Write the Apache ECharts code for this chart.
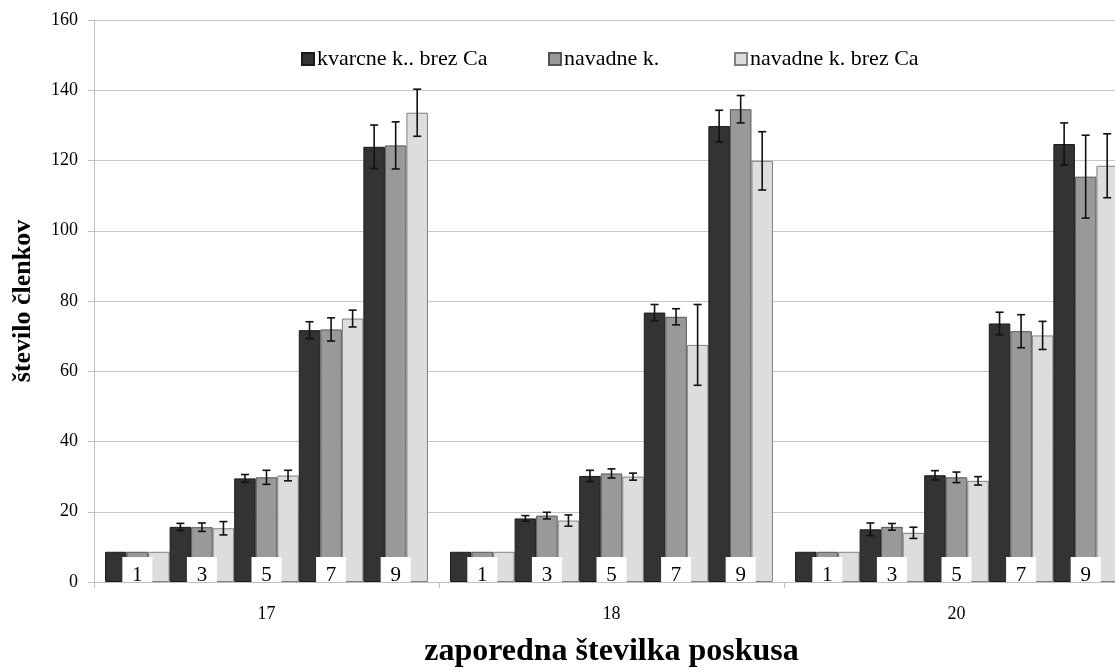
<!DOCTYPE html>
<html>
<head>
<meta charset="utf-8">
<script src="https://cdn.jsdelivr.net/npm/echarts@6/dist/echarts.min.js"></script>
<style>
  html, body { margin: 0; padding: 0; background: #fff; }
  #chart { width: 1115px; height: 668px; }
</style>
</head>
<body>
<div id="chart"></div>
<script>
// Experiment groups on the x axis and the doses inside each group
const groups = ['17', '18', '20'];
const doses = ['1', '3', '5', '7', '9'];
const treatments = ['kvarcne k.. brez Ca', 'navadne k.', 'navadne k. brez Ca'];

// Mean counts, one row per group, one column per dose
const kvarcneMean = [
  [8.6, 15.7, 29.5, 71.7, 123.9],
  [8.6, 18.1, 30.2, 76.7, 129.8],
  [8.6, 15.0, 30.4, 73.6, 124.7]
];
const kvarcneErr = [
  [0, 1.0, 1.1, 2.4, 6.2],
  [0, 0.8, 1.6, 2.3, 4.5],
  [0, 1.8, 1.3, 3.2, 6.0]
];
const navadneMean = [
  [8.6, 15.6, 29.8, 71.9, 124.3],
  [8.6, 18.9, 30.9, 75.5, 134.6],
  [8.6, 15.7, 29.8, 71.4, 115.4]
];
const navadneErr = [
  [0, 1.2, 2.0, 3.3, 6.7],
  [0, 0.95, 1.3, 2.3, 3.9],
  [0, 0.95, 1.5, 4.7, 11.8]
];
const navadneBrezMean = [
  [8.6, 15.3, 30.3, 75.0, 133.6],
  [8.6, 17.5, 30.0, 67.5, 119.9],
  [8.6, 14.0, 28.8, 70.2, 118.5]
];
const navadneBrezErr = [
  [0, 1.9, 1.5, 2.4, 6.7],
  [0, 1.6, 1.0, 11.5, 8.3],
  [0, 1.6, 1.2, 4.0, 9.1]
];

const means = [kvarcneMean, navadneMean, navadneBrezMean];
const errs = [kvarcneErr, navadneErr, navadneBrezErr];

const FONT = '"Liberation Serif", "Times New Roman", serif';
const fills = ['#333333', '#999999', '#dddddd'];
const borders = ['#1a1a1a', '#555555', '#808080'];
const CAT_GAP = 0.064;
const N_BARS = doses.length * treatments.length;

// One bar series per (dose, treatment); series sharing a name share a legend entry
const barSeries = [];
doses.forEach((d, di) => {
  treatments.forEach((t, ti) => {
    barSeries.push({
      type: 'bar',
      name: t,
      data: groups.map((g, gi) => means[ti][gi][di]),
      barGap: '0%',
      barCategoryGap: (CAT_GAP * 100) + '%',
      itemStyle: { color: fills[ti], borderColor: borders[ti], borderWidth: 1 },
      emphasis: { disabled: true },
      z: 2
    });
  });
});

// Centre x of bar k inside a category band
function barCenterX(api, gi, k) {
  const band = api.size([1, 0])[0];
  const barW = band * (1 - CAT_GAP) / N_BARS;
  const cx = api.coord([gi, 0])[0];
  return { x: cx - band * (1 - CAT_GAP) / 2 + (k + 0.5) * barW, w: barW };
}

// Error bar records: [groupIndex, barIndex, mean, err]
const errData = [];
groups.forEach((g, gi) => {
  doses.forEach((d, di) => {
    treatments.forEach((t, ti) => {
      const e = errs[ti][gi][di];
      if (e > 0) errData.push([gi, di * 3 + ti, means[ti][gi][di], e]);
    });
  });
});

// Dose tags at the foot of each triplet: [groupIndex, doseIndex]
const tagData = [];
groups.forEach((g, gi) => doses.forEach((d, di) => tagData.push([gi, di])));

const option = {
  animation: false,
  backgroundColor: '#ffffff',
  textStyle: { fontFamily: FONT },
  grid: { left: 94, right: -14, top: 20, bottom: 86, containLabel: false, outerBoundsMode: 'none' },
  legend: [
    { data: [treatments[0]], left: 296, top: 43 },
    { data: [treatments[1]], left: 543, top: 43 },
    { data: [treatments[2]], left: 729, top: 43 }
  ].map(l => Object.assign(l, {
    icon: 'rect', itemWidth: 12, itemHeight: 12, itemGap: 0,
    selectedMode: false,
    textStyle: { fontFamily: FONT, fontSize: 22, color: '#000', padding: [0, 0, 0, -2] }
  })),
  xAxis: {
    type: 'category',
    data: groups,
    axisLine: { lineStyle: { color: '#bfbfbf', width: 1 } },
    axisTick: { show: true, length: 6, lineStyle: { color: '#bfbfbf' } },
    axisLabel: { fontFamily: FONT, fontSize: 18, color: '#000', margin: 23 },
    name: 'zaporedna številka poskusa',
    nameLocation: 'middle',
    nameGap: 54,
    nameTextStyle: { fontFamily: FONT, fontSize: 32, fontWeight: 'bold', color: '#000' }
  },
  yAxis: {
    type: 'value',
    min: 0, max: 160, interval: 20,
    axisLine: { show: true, lineStyle: { color: '#bfbfbf', width: 1 } },
    axisTick: { show: true, length: 6, lineStyle: { color: '#bfbfbf' } },
    axisLabel: { fontFamily: FONT, fontSize: 18, color: '#000', margin: 16 },
    splitLine: { lineStyle: { color: '#c8c8c8', width: 1 } },
    name: 'število členkov',
    nameLocation: 'middle',
    nameGap: 58,
    nameRotate: 90,
    nameTextStyle: { fontFamily: FONT, fontSize: 26, fontWeight: 'bold', color: '#000' }
  },
  series: barSeries.concat([
    {
      type: 'custom',
      name: 'errors',
      data: errData,
      encode: { x: 0, y: 2 },
      z: 5,
      silent: true,
      renderItem: function (params, api) {
        const gi = api.value(0), k = api.value(1), m = api.value(2), e = api.value(3);
        const x = barCenterX(api, gi, k).x;
        const yTop = api.coord([gi, m + e])[1];
        const yBot = api.coord([gi, m - e])[1];
        const cap = 4;
        const st = { stroke: '#111', lineWidth: 1.6 };
        return {
          type: 'group',
          children: [
            { type: 'line', shape: { x1: x, y1: yTop, x2: x, y2: yBot }, style: st },
            { type: 'line', shape: { x1: x - cap, y1: yTop, x2: x + cap, y2: yTop }, style: st },
            { type: 'line', shape: { x1: x - cap, y1: yBot, x2: x + cap, y2: yBot }, style: st }
          ]
        };
      }
    },
    {
      type: 'custom',
      name: 'doses',
      data: tagData,
      encode: { x: 0 },
      z: 6,
      silent: true,
      renderItem: function (params, api) {
        const gi = api.value(0), di = api.value(1);
        const x = barCenterX(api, gi, di * 3 + 1).x;
        const y0 = api.coord([gi, 0])[1];
        const w = 30, h = 25;
        return {
          type: 'group',
          children: [
            { type: 'rect', shape: { x: x - w / 2, y: y0 - h, width: w, height: h },
              style: { fill: '#ffffff' } },
            { type: 'text', style: {
                text: doses[di], x: x, y: y0 + 4,
                align: 'center', verticalAlign: 'bottom',
                font: '21px ' + FONT, fill: '#000' } }
          ]
        };
      }
    }
  ])
};

const chart = echarts.init(document.getElementById('chart'), null, { renderer: 'canvas' });
chart.setOption(option);
</script>
</body>
</html>
